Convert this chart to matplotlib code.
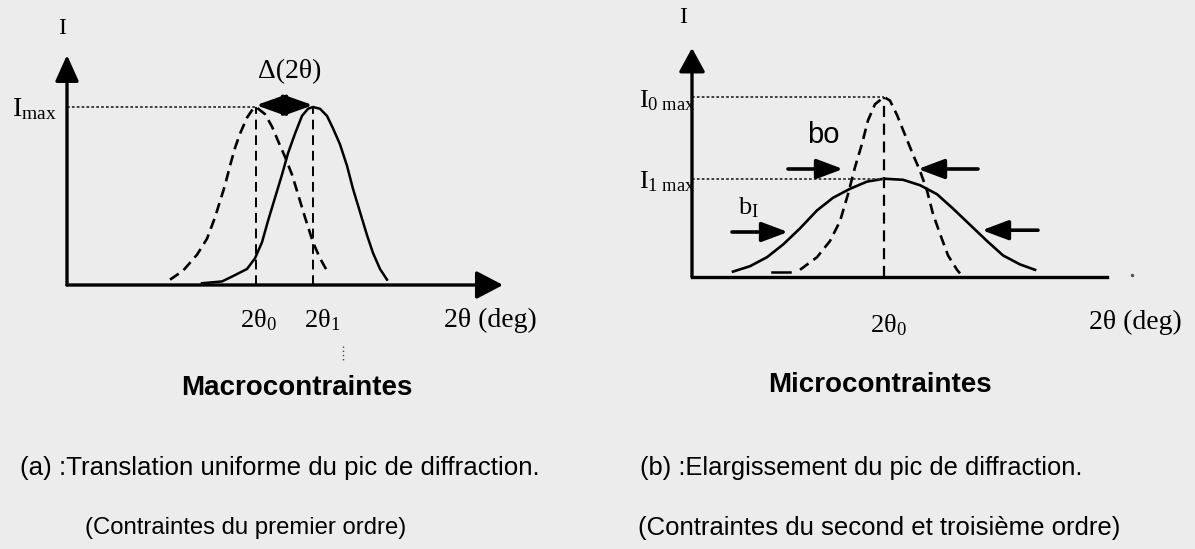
import matplotlib
matplotlib.use('Agg')
import matplotlib.pyplot as plt

W, H = 1195, 549

plt.rcParams['mathtext.fontset'] = 'custom'
plt.rcParams['mathtext.rm'] = 'Liberation Serif'
plt.rcParams['mathtext.it'] = 'Liberation Serif:italic'
plt.rcParams['mathtext.bf'] = 'Liberation Serif:bold'

# (a) uniform shift of the diffraction peak: x in arbitrary 2theta units, I / Imax
peak_a = [18.9, 24.6]
peak0_x = [10.3, 11.6, 13.0, 14.0, 14.8, 15.3, 15.8, 16.3, 16.8, 17.3, 18.0, 18.6, 18.9,
           19.8, 20.5, 21.1, 21.8, 22.5, 23.1, 23.8, 24.6, 25.3, 26.0]
peak0_y = [0.03, 0.08, 0.17, 0.26, 0.38, 0.47, 0.56, 0.67, 0.77, 0.85, 0.94, 0.99, 1.00,
           0.96, 0.89, 0.81, 0.72, 0.62, 0.51, 0.38, 0.24, 0.15, 0.08]
peak1_x = [13.5, 15.5, 16.6, 18.0, 18.8, 19.5, 20.1, 20.8, 21.5, 22.1, 22.8, 23.5, 24.1, 24.6,
           25.3, 26.0, 26.6, 27.3, 28.0, 28.6, 29.3, 30.0, 30.6, 31.3, 32.0]
peak1_y = [0.01, 0.02, 0.05, 0.09, 0.15, 0.24, 0.36, 0.49, 0.62, 0.74, 0.85, 0.95, 0.99, 1.00,
           0.99, 0.95, 0.88, 0.79, 0.67, 0.54, 0.41, 0.28, 0.18, 0.09, 0.03]

# (b) broadening of the peak: x in arbitrary 2theta units, I / I0max
peak_b = 19.2
i1_max = 0.546
narrow_x = [10.8, 12.5, 13.8, 14.8, 15.6, 16.3, 17.0, 17.6, 18.3, 19.2,
            19.8, 20.5, 21.3, 22.1, 22.8, 23.5, 24.1, 24.8, 25.6, 26.5, 26.8]
narrow_y = [0.04, 0.11, 0.20, 0.31, 0.46, 0.61, 0.74, 0.87, 0.96, 1.00,
            0.98, 0.90, 0.79, 0.68, 0.59, 0.48, 0.35, 0.24, 0.12, 0.04, 0.02]
broad_x = [4.1, 5.8, 7.5, 9.1, 10.8, 12.5, 14.1, 15.8, 17.5, 19.2,
           21.1, 22.8, 24.5, 26.1, 27.8, 29.5, 31.1, 32.8, 34.3]
broad_y = [0.03, 0.06, 0.11, 0.18, 0.27, 0.37, 0.44, 0.49, 0.53, 0.546,
           0.54, 0.51, 0.46, 0.38, 0.29, 0.20, 0.12, 0.07, 0.04]
# width markers: (tail, tip) along x, and their heights
bo_left, bo_right, bo_h = (9.6, 15.1), (28.6, 22.6), 0.60
b1_left, b1_right = (4.0, 9.6), (34.6, 29.0)
b1_h = [0.25, 0.26]

fig = plt.figure(figsize=(W / 100, H / 100), dpi=100)
fig.patch.set_facecolor('#ececec')


def panel(x0, x1, ox, oy, yunit):
    # axes over the pixel band x0..x1; origin at pixel (ox, oy), 10 px per x unit
    ax = fig.add_axes([x0 / W, 0, (x1 - x0) / W, 1])
    ax.set_xlim((x0 - ox) / 10, (x1 - ox) / 10)
    ax.set_ylim((oy - H) / yunit, oy / yunit)
    ax.axis('off')
    return ax


def arrow(ax, start, end, hl, hw, lw=2.4, style='-|>'):
    ax.annotate('', xy=end, xytext=start,
                arrowprops=dict(arrowstyle=f'{style},head_length={hl},head_width={hw}',
                                mutation_scale=20, lw=lw, color='black',
                                shrinkA=0, shrinkB=0))


serif = dict(family='Liberation Serif', color='black')
sans = dict(family='Liberation Sans', color='black')
dash = (0, (4, 2.3))
vdash = (0, (5, 3))
dot = (0, (1.5, 1.2))

# ---- panel (a)
ax1 = panel(0, 597, 67, 285, 178)
arrow(ax1, (0, 0), (0, 1.292), 0.8, 0.36)
arrow(ax1, (0, 0), (43.6, 0), 0.82, 0.43)
ax1.plot(peak0_x, peak0_y, color='black', lw=1.9, ls=dash)
ax1.plot(peak1_x, peak1_y, color='black', lw=1.8)
for p in peak_a:
    ax1.plot([p, p], [0, 1], color='black', lw=1.4, ls=vdash)
ax1.plot([0, peak_a[0]], [1, 1], color='#333333', lw=1.3, ls=dot)
arrow(ax1, (peak_a[0], 1.01), (peak_a[1], 1.01), 0.9, 0.32, lw=2.6, style='<|-|>')
ax1.plot([27.6, 27.6], [-0.34, -0.43], color='#444444', lw=1.0, ls=(0, (1, 2)))

ax1.text(-0.5, 1.44, 'I', fontsize=17, ha='center', va='center', **serif)
ax1.text(-1.0, 0.99, r'I$_{\mathrm{max}}$', fontsize=20, ha='right', va='center', **serif)
ax1.text(22.3, 1.20, 'Δ(2θ)', fontsize=20, ha='center', va='center', **serif)
ax1.text(19.1, -0.20, r'2θ$_{\mathrm{0}}$', fontsize=19, ha='center', va='center', **serif)
ax1.text(25.5, -0.20, r'2θ$_{\mathrm{1}}$', fontsize=19, ha='center', va='center', **serif)
ax1.text(42.3, -0.20, '2θ (deg)', fontsize=20, ha='center', va='center', **serif)

# ---- panel (b)
ax2 = panel(597, 1195, 692, 277, 180)
arrow(ax2, (0, 0), (0, 1.272), 0.73, 0.4)
ax2.plot([0, 41.5], [0, 0], color='black', lw=2.4, solid_capstyle='projecting')
ax2.plot([44.0], [0.01], marker='o', ms=1.5, color='#555555')
ax2.plot(narrow_x, narrow_y, color='black', lw=1.9, ls=dash)
ax2.plot([8.0, 9.8], [0.03, 0.03], color='black', lw=1.8)
ax2.plot(broad_x, broad_y, color='black', lw=1.9)
ax2.plot([peak_b, peak_b], [0, 1], color='black', lw=1.6, ls=vdash)
ax2.plot([0, peak_b], [1, 1], color='#333333', lw=1.3, ls=dot)
ax2.plot([0, peak_b], [i1_max, i1_max], color='#333333', lw=1.3, ls=dot)
for tail, tip in (bo_left, bo_right):
    arrow(ax2, (tail, bo_h), (tip, bo_h), 0.8, 0.3, lw=2.6)
for (tail, tip), h in zip((b1_left, b1_right), b1_h):
    arrow(ax2, (tail, h), (tip, h), 0.8, 0.3, lw=2.6)

ax2.text(-0.9, 1.44, 'I', fontsize=17, ha='center', va='center', **serif)
ax2.text(0.3, 0.98, r'I$_{\mathrm{0\ max}}$', fontsize=19, ha='right', va='center', **serif)
ax2.text(0.3, 0.53, r'I$_{\mathrm{1\ max}}$', fontsize=19, ha='right', va='center', **serif)
ax2.text(13.1, 0.79, 'bo', fontsize=21, ha='center', va='center', **sans)
ax2.text(5.6, 0.385, r'b$_{\mathrm{I}}$', fontsize=19, ha='center', va='center', **serif)
ax2.text(19.6, -0.27, r'2θ$_{\mathrm{0}}$', fontsize=19, ha='center', va='center', **serif)
ax2.text(44.3, -0.25, '2θ (deg)', fontsize=20, ha='center', va='center', **serif)


# ---- captions
def caption(px, py, s, size, ha='left', weight='normal'):
    fig.text(px / W, 1 - py / H, s, fontsize=size, ha=ha, va='center',
             fontweight=weight, **sans)


caption(297, 388, 'Macrocontraintes', 20, ha='center', weight='bold')
caption(880, 385, 'Microcontraintes', 20, ha='center', weight='bold')
caption(20, 468, '(a) :Translation uniforme du pic de diffraction.', 18.6)
caption(640, 468, '(b) :Elargissement du pic de diffraction.', 18.4)
caption(85, 528, '(Contraintes du premier ordre)', 17.2)
caption(638, 528, '(Contraintes du second et troisième ordre)', 18.5)

fig.savefig('out.png', dpi=100, facecolor=fig.get_facecolor())
